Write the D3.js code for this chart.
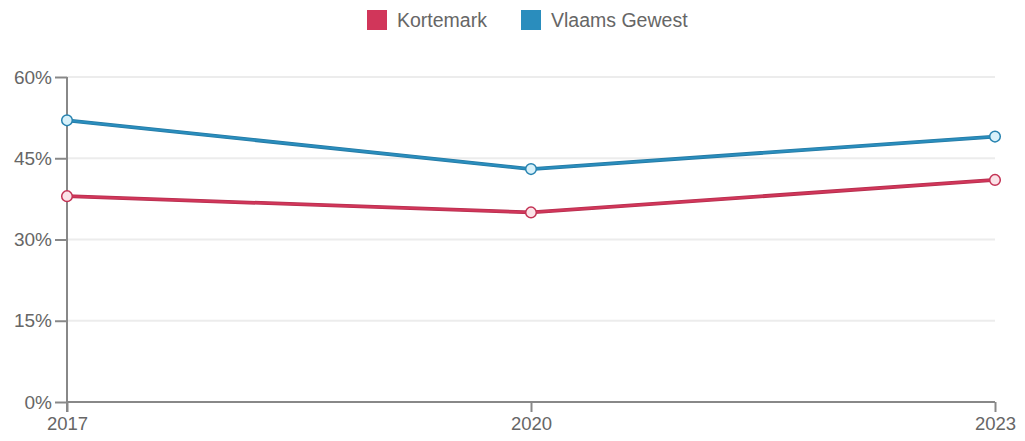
<!DOCTYPE html>
<html>
<head>
<meta charset="utf-8">
<script src="https://cdn.jsdelivr.net/npm/d3@7"></script>
<style>
  html, body { margin: 0; padding: 0; background: #fff; }
  svg { display: block; font-family: "Liberation Sans", Arial, sans-serif; }
</style>
</head>
<body>
<svg id="chart" width="1025" height="441"></svg>
<script>
// Share per year (%), two series
const years = ["2017", "2020", "2023"];
const kortemark = [38, 35, 41];
const vlaamsGewest = [52, 43, 49];
const seriesNames = ["Kortemark", "Vlaams Gewest"];
const seriesColors = ["#d1365a", "#2a8dbd"];
const pointFills = ["#fbe3e8", "#d8f1fa"];
const yTicks = [0, 15, 30, 45, 60];

const svg = d3.select("#chart");
const margin = { left: 67, right: 30, top: 77, bottom: 39 };
const W = 1025, H = 441;

const x = d3.scalePoint().domain(years).range([margin.left, W - margin.right]);
const y = d3.scaleLinear().domain([0, 60]).range([H - margin.bottom, margin.top]);

// horizontal gridlines
svg.append("g")
  .selectAll("line")
  .data(yTicks.filter(d => d > 0))
  .join("line")
  .attr("x1", margin.left).attr("x2", W - margin.right)
  .attr("y1", d => y(d)).attr("y2", d => y(d))
  .attr("stroke", "#ececec").attr("stroke-width", 2);

// y axis
const yAxis = svg.append("g")
  .attr("transform", `translate(${margin.left},0)`)
  .call(d3.axisLeft(y).tickValues(yTicks).tickFormat(d => d + "%").tickSize(12).tickPadding(3));
yAxis.select(".domain").attr("stroke", "#888").attr("stroke-width", 2)
  .attr("d", `M0,${margin.top}V${H - margin.bottom + 10}`);
yAxis.selectAll(".tick line").attr("stroke", "#888").attr("stroke-width", 2);
yAxis.selectAll("text").attr("fill", "#666").attr("font-size", 19);

// x axis
const xAxis = svg.append("g")
  .attr("transform", `translate(0,${H - margin.bottom})`)
  .call(d3.axisBottom(x).tickSize(10).tickPadding(5));
xAxis.select(".domain").attr("stroke", "#888").attr("stroke-width", 2)
  .attr("d", `M${margin.left},0H${W - margin.right}`);
xAxis.selectAll(".tick line").attr("stroke", "#888").attr("stroke-width", 2);
xAxis.selectAll("text").attr("fill", "#666").attr("font-size", 18.5);

// lines and points
const allSeries = [kortemark, vlaamsGewest];
const line = d3.line().x((d, i) => x(years[i])).y(d => y(d));

allSeries.forEach((vals, s) => {
  svg.append("path")
    .datum(vals)
    .attr("d", line)
    .attr("fill", "none")
    .attr("stroke", d3.color(seriesColors[s]).darker(0.4))
    .attr("stroke-width", 3.8);
  svg.append("path")
    .datum(vals)
    .attr("d", line)
    .attr("fill", "none")
    .attr("stroke", seriesColors[s])
    .attr("stroke-width", 2.2);
});

allSeries.forEach((vals, s) => {
  svg.append("g")
    .selectAll("circle")
    .data(vals)
    .join("circle")
    .attr("cx", (d, i) => x(years[i]))
    .attr("cy", d => y(d))
    .attr("r", 5.3)
    .attr("fill", pointFills[s])
    .attr("stroke", d3.color(seriesColors[s]).darker(0.2))
    .attr("stroke-width", 1.5);
});

// legend
const legend = svg.append("g");
const legendX = [367, 521];
seriesNames.forEach((name, i) => {
  legend.append("rect")
    .attr("x", legendX[i]).attr("y", 10)
    .attr("width", 20).attr("height", 20)
    .attr("fill", seriesColors[i]);
  legend.append("text")
    .attr("x", legendX[i] + 30).attr("y", 27)
    .attr("fill", "#666").attr("font-size", 19.5)
    .text(name);
});
</script>
</body>
</html>
